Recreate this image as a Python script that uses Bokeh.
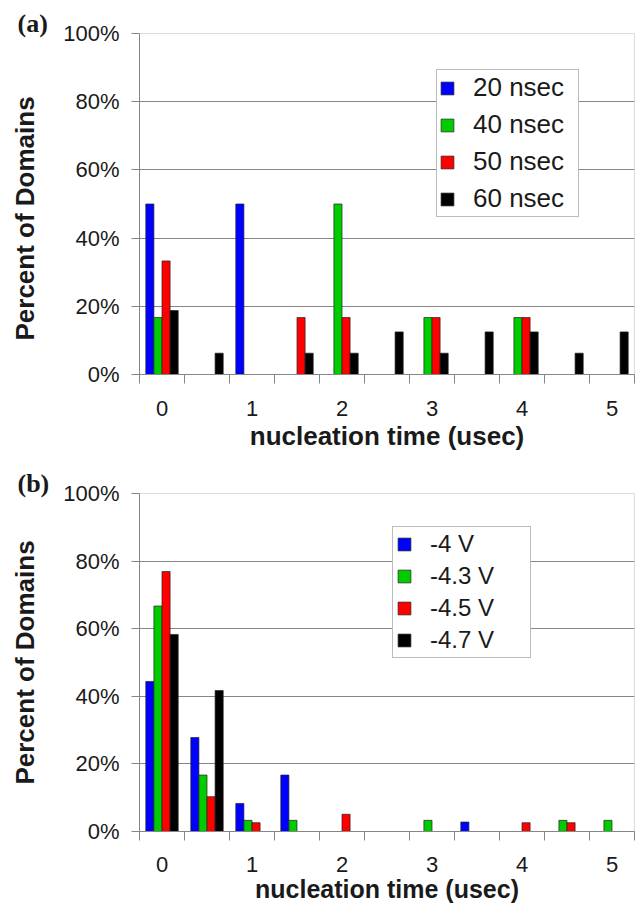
from bokeh.plotting import figure
from bokeh.models import FixedTicker, Legend, LegendItem, Title
from bokeh.layouts import column
from bokeh.embed import file_html
from bokeh.resources import INLINE

# ---------------- data ----------------
categories = [0, 0.5, 1, 1.5, 2, 2.5, 3, 3.5, 4, 4.5, 5]
x_tick_values = [0, 1, 2, 3, 4, 5]
x_tick_labels = ["0", "1", "2", "3", "4", "5"]
y_tick_values = [0, 20, 40, 60, 80, 100]
y_tick_labels = ["0%", "20%", "40%", "60%", "80%", "100%"]

# panel (a): pulse width series
a_names = ["20 nsec", "40 nsec", "50 nsec", "60 nsec"]
a_20ns = [50, 0, 50, 0, 0, 0, 0, 0, 0, 0, 0]
a_40ns = [16.7, 0, 0, 0, 50, 0, 16.7, 0, 16.7, 0, 0]
a_50ns = [33.3, 0, 0, 16.7, 16.7, 0, 16.7, 0, 16.7, 0, 0]
a_60ns = [18.75, 6.25, 0, 6.25, 6.25, 12.5, 6.25, 12.5, 12.5, 6.25, 12.5]

# panel (b): voltage series
b_names = ["-4 V", "-4.3 V", "-4.5 V", "-4.7 V"]
b_4V = [44.4, 27.8, 8.3, 16.7, 0, 0, 0, 2.8, 0, 0, 0]
b_43V = [66.7, 16.7, 3.3, 3.3, 0, 0, 3.3, 0, 0, 3.3, 3.3]
b_45V = [76.9, 10.3, 2.6, 0, 5.1, 0, 0, 0, 2.6, 2.6, 0]
b_47V = [58.3, 41.7, 0, 0, 0, 0, 0, 0, 0, 0, 0]

COLORS = ["#0000FF", "#00CC00", "#FF0000", "#000000"]
FONT = "Liberation Sans"
TXT = "#1a1a1a"
GRID = "#868686"
BAR_W = 0.09
HALF = 0.25


def make_panel(series, names, tag, leg_loc, leg_font, leg_spacing, leg_pad,
               leg_label_w, frame_h, min_bottom, tick_standoff, x_title_size,
               x_title_standoff, y_title):
    p = figure(frame_width=495, frame_height=frame_h,
               x_range=(categories[0] - HALF, categories[-1] + HALF),
               y_range=(0, 100),
               output_backend="svg", toolbar_location=None,
               min_border_left=139, min_border_right=2,
               min_border_top=33, min_border_bottom=min_bottom,
               background_fill_color="white", border_fill_color="white",
               title=tag)
    p.outline_line_color = "#dcdcdc"
    p.outline_line_width = 1

    # panel tag "(a)" / "(b)"
    p.title.align = "left"
    p.title.offset = -122
    p.title.standoff = -8
    p.title.text_font = "Liberation Serif"
    p.title.text_font_style = "bold"
    p.title.text_font_size = "26px"
    p.title.text_color = TXT

    # x axis
    xa = p.xaxis[0]
    xa.ticker = FixedTicker(ticks=x_tick_values,
                            minor_ticks=[c - HALF for c in categories] + [categories[-1] + HALF])
    xa.major_label_overrides = {v: l for v, l in zip(x_tick_values, x_tick_labels)}
    xa.major_tick_out = 0
    xa.major_tick_in = 0
    xa.minor_tick_out = 9
    xa.minor_tick_in = 0
    xa.minor_tick_line_color = GRID
    xa.axis_line_color = GRID
    xa.major_label_standoff = tick_standoff
    xa.major_label_text_font = FONT
    xa.major_label_text_font_size = "22px"
    xa.major_label_text_color = TXT

    # x axis title as a title placed below the axis
    p.add_layout(Title(text="nucleation time (usec)", align="center",
                       text_font=FONT, text_font_style="bold",
                       text_font_size=x_title_size, text_color=TXT,
                       standoff=x_title_standoff), "below")

    # y axis
    ya = p.yaxis[0]
    ya.ticker = FixedTicker(ticks=y_tick_values, minor_ticks=[])
    ya.major_label_overrides = {v: l for v, l in zip(y_tick_values, y_tick_labels)}
    ya.major_tick_out = 8
    ya.major_tick_in = 0
    ya.major_tick_line_color = GRID
    ya.minor_tick_line_color = None
    ya.axis_line_color = GRID
    ya.major_label_standoff = 12
    ya.major_label_text_font = FONT
    ya.major_label_text_font_size = "22px"
    ya.major_label_text_color = TXT
    ya.axis_label = y_title
    ya.axis_label_text_font = FONT
    ya.axis_label_text_font_style = "bold"
    ya.axis_label_text_font_size = "26px"
    ya.axis_label_text_color = TXT
    ya.axis_label_standoff = 20

    p.xgrid.visible = False
    p.ygrid.ticker = FixedTicker(ticks=y_tick_values[1:])
    p.ygrid.grid_line_color = GRID
    p.ygrid.grid_line_width = 1

    items = []
    for i, vals in enumerate(series):
        off = (i - 1.5) * BAR_W
        xs = [c + off for c, v in zip(categories, vals) if v > 0]
        tops = [v for v in vals if v > 0]
        r = p.vbar(x=xs, top=tops, bottom=0, width=BAR_W,
                   fill_color=COLORS[i], line_color="#222222", line_width=0.7)
        items.append(LegendItem(label=names[i], renderers=[r]))

    leg = Legend(items=items, location=leg_loc,
                 border_line_color="#7a7a7a", border_line_width=1,
                 background_fill_color="white", background_fill_alpha=1,
                 label_text_font=FONT, label_text_font_size=leg_font,
                 label_text_color=TXT, label_width=leg_label_w,
                 glyph_width=16, glyph_height=16,
                 spacing=leg_spacing, padding=leg_pad, label_standoff=18,
                 margin=0)
    p.add_layout(leg)
    return p


pa = make_panel([a_20ns, a_40ns, a_50ns, a_60ns], a_names, "(a)",
                (297, 157), "26px", 6, 2, 103, 341, 86, 17, "26px", 0,
                "Percent of Domains\u00a0\u00a0\u00a0\u00a0")
pb = make_panel([b_4V, b_43V, b_45V, b_47V], b_names, "(b)",
                (253, 173), "24px", 4, 3, 97, 338, 73, 16, "25px", -3,
                "Percent of Domains")

layout = column(pa, pb, spacing=0)
open("out.html", "w").write(file_html(layout, INLINE))
